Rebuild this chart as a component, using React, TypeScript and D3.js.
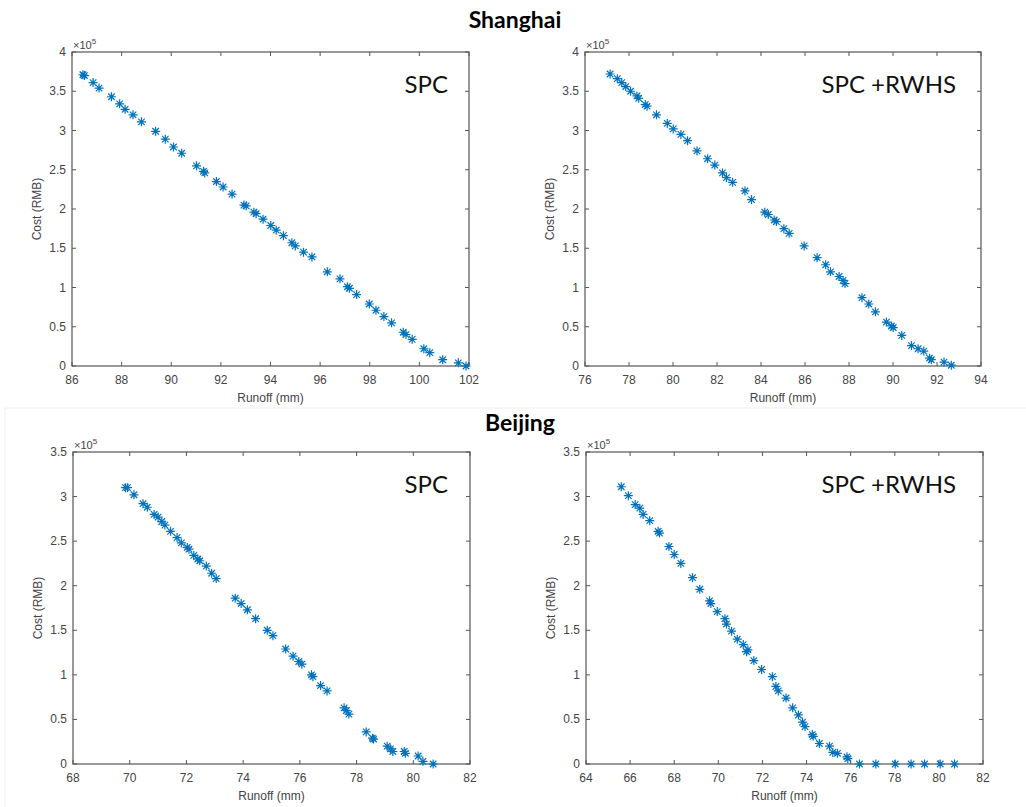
import React from "react";
import * as d3 from "d3";

// ---------- Data (cost in units of 10^5 RMB) ----------
const shanghaiSpcRunoff = [86.44, 86.5, 86.85, 87.09, 87.59, 87.92, 88.14, 88.46, 88.8, 89.37, 89.76, 90.09, 90.42, 91.02, 91.3, 91.35, 91.82, 92.09, 92.45, 92.93, 93.02, 93.33, 93.42, 93.7, 94.01, 94.23, 94.52, 94.86, 95.0, 95.33, 95.67, 96.29, 96.8, 97.1, 97.18, 97.47, 97.98, 98.25, 98.57, 98.88, 99.35, 99.46, 99.71, 100.18, 100.42, 100.94, 101.57, 101.88];
const shanghaiSpcCost = [3.71, 3.7, 3.61, 3.54, 3.43, 3.34, 3.27, 3.2, 3.11, 2.99, 2.89, 2.79, 2.71, 2.55, 2.48, 2.46, 2.35, 2.28, 2.19, 2.05, 2.04, 1.96, 1.94, 1.87, 1.79, 1.73, 1.66, 1.57, 1.53, 1.45, 1.39, 1.2, 1.11, 1.01, 0.99, 0.91, 0.79, 0.71, 0.63, 0.55, 0.43, 0.4, 0.34, 0.22, 0.17, 0.08, 0.04, 0.0];

const shanghaiRwhsRunoff = [77.14, 77.47, 77.67, 77.85, 78.07, 78.36, 78.44, 78.74, 78.82, 79.25, 79.74, 80.01, 80.36, 80.66, 81.09, 81.57, 81.9, 82.25, 82.43, 82.71, 83.27, 83.57, 84.17, 84.33, 84.6, 84.7, 85.04, 85.28, 85.96, 86.55, 86.94, 87.16, 87.55, 87.73, 87.82, 88.59, 88.9, 89.2, 89.7, 89.93, 90.01, 90.4, 90.84, 91.14, 91.4, 91.66, 91.74, 92.32, 92.65];
const shanghaiRwhsCost = [3.72, 3.66, 3.61, 3.56, 3.5, 3.44, 3.41, 3.33, 3.31, 3.2, 3.09, 3.02, 2.95, 2.87, 2.74, 2.64, 2.56, 2.46, 2.4, 2.34, 2.23, 2.12, 1.96, 1.93, 1.86, 1.84, 1.75, 1.69, 1.53, 1.38, 1.29, 1.2, 1.14, 1.09, 1.05, 0.87, 0.79, 0.69, 0.56, 0.51, 0.49, 0.39, 0.26, 0.22, 0.19, 0.1, 0.08, 0.05, 0.01];

const beijingSpcRunoff = [69.85, 69.92, 70.15, 70.47, 70.62, 70.86, 71.0, 71.13, 71.24, 71.44, 71.67, 71.82, 72.03, 72.09, 72.26, 72.4, 72.47, 72.7, 72.89, 73.05, 73.72, 73.93, 74.15, 74.44, 74.85, 75.05, 75.5, 75.76, 75.96, 76.07, 76.41, 76.46, 76.73, 76.96, 77.56, 77.64, 77.73, 78.34, 78.56, 78.6, 79.08, 79.19, 79.28, 79.68, 79.72, 80.17, 80.34, 80.7];
const beijingSpcCost = [3.1, 3.1, 3.02, 2.92, 2.88, 2.8, 2.77, 2.72, 2.68, 2.61, 2.54, 2.48, 2.43, 2.41, 2.34, 2.3, 2.28, 2.22, 2.14, 2.08, 1.86, 1.8, 1.73, 1.63, 1.5, 1.44, 1.29, 1.21, 1.15, 1.12, 1.0, 0.98, 0.88, 0.82, 0.63, 0.6, 0.56, 0.36, 0.29, 0.28, 0.2, 0.17, 0.14, 0.14, 0.12, 0.09, 0.03, 0.0];

const beijingRwhsRunoff = [65.6, 65.92, 66.23, 66.44, 66.59, 66.89, 67.27, 67.33, 67.76, 68.0, 68.3, 68.83, 69.16, 69.6, 69.66, 69.95, 70.3, 70.37, 70.6, 70.86, 71.13, 71.28, 71.34, 71.61, 71.96, 72.45, 72.61, 72.72, 73.07, 73.37, 73.63, 73.82, 73.93, 74.26, 74.3, 74.58, 75.04, 75.19, 75.4, 75.83, 75.87, 76.4, 77.14, 78.02, 78.74, 79.35, 80.06, 80.71];
const beijingRwhsCost = [3.11, 3.01, 2.91, 2.87, 2.8, 2.73, 2.61, 2.59, 2.44, 2.35, 2.25, 2.09, 1.96, 1.83, 1.8, 1.71, 1.63, 1.57, 1.49, 1.4, 1.34, 1.26, 1.28, 1.16, 1.06, 0.98, 0.87, 0.82, 0.74, 0.63, 0.55, 0.47, 0.42, 0.33, 0.31, 0.23, 0.2, 0.13, 0.12, 0.08, 0.06, 0.0, 0.0, 0.0, 0.0, 0.0, 0.0, 0.0];

const shanghaiTitle = "Shanghai";
const beijingTitle = "Beijing";
const spcLabel = "SPC";
const rwhsLabel = "SPC +RWHS";
const xAxisLabel = "Runoff (mm)";
const yAxisLabel = "Cost (RMB)";

const shanghaiSpcXDomain = [86, 102];
const shanghaiRwhsXDomain = [76, 94];
const beijingSpcXDomain = [68, 82];
const beijingRwhsXDomain = [64, 82];
const shanghaiYDomain = [0, 4];
const beijingYDomain = [0, 3.5];

const MARKER = "#0072BD";
const AXIS = "#555555";
const TICKTXT = "#444444";
const SANS = "'Liberation Sans', Arial, sans-serif";
const LABEL_FONT = "Lato, 'Open Sans', sans-serif";

type PanelProps = {
  left: number;
  right: number;
  top: number;
  bottom: number;
  xDomain: number[];
  yDomain: number[];
  xs: number[];
  ys: number[];
  label: string;
  labelInset: number;
};

function Panel(p: PanelProps) {
  const x = d3.scaleLinear().domain(p.xDomain).range([p.left, p.right]);
  const y = d3.scaleLinear().domain(p.yDomain).range([p.bottom, p.top]);
  const xTicks = d3.range(p.xDomain[0], p.xDomain[1] + 0.001, 2);
  const yTicks = d3.range(p.yDomain[0], p.yDomain[1] + 0.001, 0.5);
  const tl = 4;
  const r = 4.5;
  const dd = r * 0.72;
  const star = `M${-r},0L${r},0M0,${-r}L0,${r}M${-dd},${-dd}L${dd},${dd}M${-dd},${dd}L${dd},${-dd}`;
  const fmtY = (v: number) => (Number.isInteger(v) ? String(v) : v.toFixed(1));
  const midX = (p.left + p.right) / 2;
  const midY = (p.top + p.bottom) / 2;
  return (
    <g>
      <rect x={p.left} y={p.top} width={p.right - p.left} height={p.bottom - p.top} fill="#fff" stroke={AXIS} strokeWidth={1.2} />
      {xTicks.map((t) => (
        <g key={"xt" + t}>
          <line x1={x(t)} x2={x(t)} y1={p.bottom} y2={p.bottom - tl} stroke={AXIS} />
          <line x1={x(t)} x2={x(t)} y1={p.top} y2={p.top + tl} stroke={AXIS} />
          <text x={x(t)} y={p.bottom + 18} textAnchor="middle" fontFamily={SANS} fontSize={12} fill={TICKTXT}>
            {t}
          </text>
        </g>
      ))}
      {yTicks.map((t) => (
        <g key={"yt" + t}>
          <line x1={p.left} x2={p.left + tl} y1={y(t)} y2={y(t)} stroke={AXIS} />
          <line x1={p.right} x2={p.right - tl} y1={y(t)} y2={y(t)} stroke={AXIS} />
          <text x={p.left - 6} y={y(t) + 4} textAnchor="end" fontFamily={SANS} fontSize={12} fill={TICKTXT}>
            {fmtY(t)}
          </text>
        </g>
      ))}
      <text x={p.left + 1} y={p.top - 3} fontFamily={SANS} fontSize={11} fill={TICKTXT}>
        {"×10"}
        <tspan fontSize={8} dy={-5}>5</tspan>
      </text>
      <text x={midX} y={p.bottom + 36} textAnchor="middle" fontFamily={SANS} fontSize={12} fill={TICKTXT}>
        {xAxisLabel}
      </text>
      <text
        transform={`translate(${p.left - 31},${midY}) rotate(-90)`}
        textAnchor="middle"
        fontFamily={SANS}
        fontSize={12}
        fill={TICKTXT}
      >
        {yAxisLabel}
      </text>
      <text x={p.right - p.labelInset} y={p.top + 41} textAnchor="end" fontFamily={LABEL_FONT} fontSize={24} fill="#111">
        {p.label}
      </text>
      {p.xs.map((v, i) => (
        <path key={"m" + i} d={star} transform={`translate(${x(v)},${y(p.ys[i])})`} fill="none" stroke={MARKER} strokeWidth={1.2} />
      ))}
    </g>
  );
}

export default function App() {
  return (
    <svg
      width={1026}
      height={807}
      style={{ position: "absolute", left: 0, top: 0, background: "#fff" }}
    >
      <rect x={0} y={0} width={1026} height={807} fill="#fff" />
      <line x1={5} x2={1026} y1={408} y2={408} stroke="#efefef" />
      <line x1={5} x2={5} y1={408} y2={807} stroke="#f2f2f2" />
      <text x={515} y={28} textAnchor="middle" fontFamily={LABEL_FONT} fontWeight="bold" fontSize={23} fill="#000">
        {shanghaiTitle}
      </text>
      <text x={520} y={431} textAnchor="middle" fontFamily={LABEL_FONT} fontWeight="bold" fontSize={23} fill="#000">
        {beijingTitle}
      </text>
      <Panel left={72} right={469} top={52} bottom={366} xDomain={shanghaiSpcXDomain} yDomain={shanghaiYDomain}
        xs={shanghaiSpcRunoff} ys={shanghaiSpcCost} label={spcLabel} labelInset={21} />
      <Panel left={585} right={981} top={52} bottom={366} xDomain={shanghaiRwhsXDomain} yDomain={shanghaiYDomain}
        xs={shanghaiRwhsRunoff} ys={shanghaiRwhsCost} label={rwhsLabel} labelInset={25} />
      <Panel left={73} right={470} top={452} bottom={764} xDomain={beijingSpcXDomain} yDomain={beijingYDomain}
        xs={beijingSpcRunoff} ys={beijingSpcCost} label={spcLabel} labelInset={22} />
      <Panel left={586} right={983} top={452} bottom={764} xDomain={beijingRwhsXDomain} yDomain={beijingYDomain}
        xs={beijingRwhsRunoff} ys={beijingRwhsCost} label={rwhsLabel} labelInset={27} />
    </svg>
  );
}
